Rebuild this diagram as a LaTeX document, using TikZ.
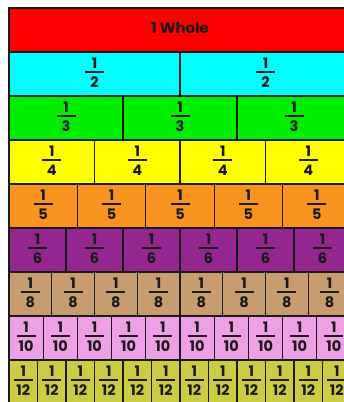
\documentclass[tikz,border=0pt]{standalone}
\usepackage{fontspec}
\setmainfont{Poppins}
\usetikzlibrary{calc}
\definecolor{cRed}{HTML}{FF0000}
\definecolor{cCyan}{HTML}{00FFFF}
\definecolor{cGreen}{HTML}{00EE00}
\definecolor{cYellow}{HTML}{FFFF00}
\definecolor{cOrange}{HTML}{F7931E}
\definecolor{cPurple}{HTML}{93278F}
\definecolor{cTan}{HTML}{C79C6E}
\definecolor{cPink}{HTML}{EEA0E6}
\definecolor{cOlive}{HTML}{CCCC44}
\definecolor{edge}{HTML}{1A1A1A}
\begin{document}
\begin{tikzpicture}[x=1pt,y=-1pt,
  cellbox/.style={draw=edge, line width=1.1pt, inner sep=0pt, outer sep=0pt, anchor=north west, minimum height=44pt},
  digit/.style={font=\fontsize{14.5}{15}\selectfont\bfseries, inner sep=0pt, text=edge},
  fracbar/.style={draw=edge, line width=1.4pt}]
\useasboundingbox (0,0) rectangle (344,402);
\fill[white] (0,0) rectangle (344,402);
\clip (0,0) rectangle (344,402);
% whole
\node[cellbox, fill=cRed, minimum width=342pt] (whole) at (9,8) {};
\node[font=\fontsize{15}{16}\selectfont\bfseries, text=edge, inner sep=0pt] (wholetxt) at ($(whole.center)+(0,-1.5)$) {1 Whole};
% fraction rows
\foreach \n/\col/\r in {2/cCyan/1, 3/cGreen/2, 4/cYellow/3, 5/cOrange/4, 6/cPurple/5, 8/cTan/6, 10/cPink/7, 12/cOlive/8}{
  \pgfmathsetmacro{\w}{342/\n}
  \pgfmathsetmacro{\rowtop}{8+44*\r}
  \foreach \i in {1,...,\n}{
    \pgfmathsetmacro{\xl}{9+(\i-1)*\w}
    \node[cellbox, fill=\col, minimum width=\w pt] (c\n-\i) at (\xl,\rowtop) {};
    \node[digit] (num\n-\i) at ($(c\n-\i.center)+(0,-10.5)$) {1};
    \node[digit] (den\n-\i) at ($(c\n-\i.center)+(0,8.5)$) {\n};
    \coordinate (bl\n-\i) at ($(c\n-\i.center)+(-9.5,-2)$);
    \coordinate (br\n-\i) at ($(c\n-\i.center)+(9.5,-2)$);
    \draw[fracbar] (bl\n-\i) -- (br\n-\i);
  }
}
\end{tikzpicture}
\end{document}
